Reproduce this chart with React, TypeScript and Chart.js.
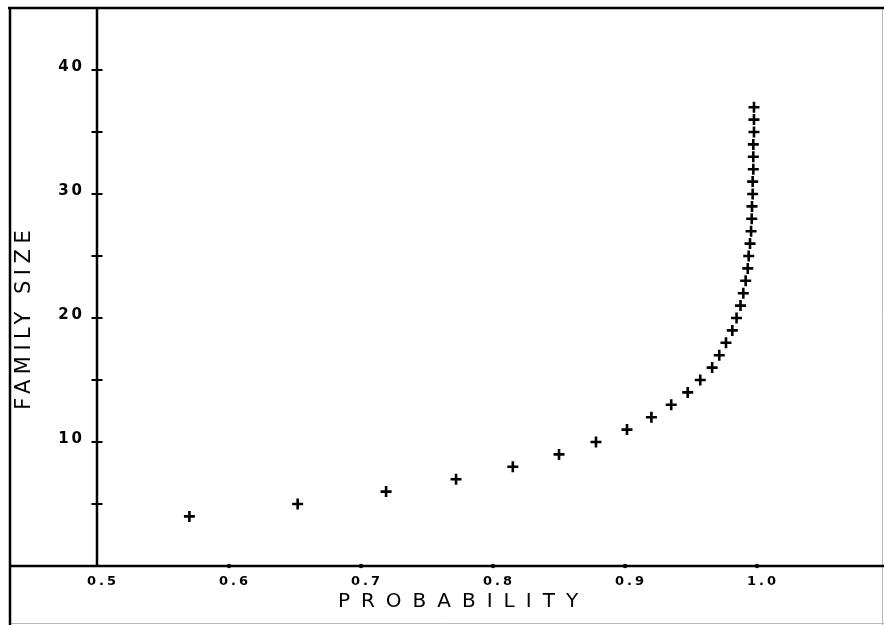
import React, { useEffect, useRef } from "react";
import { Chart, registerables } from "chart.js";

Chart.register(...registerables);

const familySize = [
  4, 5, 6, 7, 8, 9, 10, 11, 12, 13, 14, 15, 16, 17, 18, 19, 20, 21, 22, 23,
  24, 25, 26, 27, 28, 29, 30, 31, 32, 33, 34, 35, 36, 37,
];
const probability = [
  0.570, 0.652, 0.719, 0.772, 0.815, 0.850, 0.878, 0.9015, 0.920, 0.935,
  0.9475, 0.957, 0.966, 0.9714, 0.9765, 0.9813, 0.9845, 0.9875, 0.9896,
  0.9914, 0.993, 0.9937, 0.9947, 0.9955, 0.996, 0.9962, 0.9967, 0.9967,
  0.9972, 0.9972, 0.9972, 0.9977, 0.9977, 0.9977,
];
const yLabelValues = [10, 20, 30, 40];
const xTitle = "PROBABILITY";
const yTitle = "FAMILY SIZE";

const framePlugin = {
  id: "frame",
  beforeDraw(chart: any) {
    (chart.ctx as any).letterSpacing = "3px";
  },
  afterDraw(chart: any) {
    const { ctx, chartArea, scales } = chart;
    const xs = scales.x;
    const ys = scales.y;
    const W = chart.width;
    const H = chart.height;
    ctx.save();
    (ctx as any).letterSpacing = "0px";
    // faint outer page edges
    ctx.strokeStyle = "#b8b8b8";
    ctx.lineWidth = 1;
    ctx.beginPath();
    ctx.moveTo(W - 1.5, chartArea.top);
    ctx.lineTo(W - 1.5, H);
    ctx.moveTo(chartArea.left - 88, H - 1.5);
    ctx.lineTo(W, H - 1.5);
    ctx.stroke();
    // frame
    ctx.strokeStyle = "#000";
    ctx.lineWidth = 2.5;
    ctx.beginPath();
    ctx.moveTo(chartArea.left - 89, chartArea.top);
    ctx.lineTo(W, chartArea.top);
    ctx.moveTo(chartArea.left - 87, chartArea.top - 1);
    ctx.lineTo(chartArea.left - 87, H);
    ctx.moveTo(chartArea.left - 88, chartArea.bottom);
    ctx.lineTo(W, chartArea.bottom);
    ctx.moveTo(chartArea.left, chartArea.top);
    ctx.lineTo(chartArea.left, chartArea.bottom);
    ctx.stroke();
    // y tick marks crossing the axis
    ctx.lineWidth = 2;
    ctx.beginPath();
    for (const t of ys.ticks) {
      if (t.value <= 0 || t.value >= ys.max) continue;
      const py = ys.getPixelForValue(t.value);
      ctx.moveTo(chartArea.left - 5.5, py);
      ctx.lineTo(chartArea.left + 5.5, py);
    }
    ctx.stroke();
    // x tick dots
    ctx.fillStyle = "#000";
    for (const t of xs.ticks) {
      if (t.value <= xs.min + 1e-9) continue;
      const px = xs.getPixelForValue(t.value);
      ctx.beginPath();
      ctx.arc(px, chartArea.bottom, 2.2, 0, Math.PI * 2);
      ctx.fill();
    }
    // axis titles
    ctx.fillStyle = "#000";
    ctx.textAlign = "center";
    ctx.textBaseline = "middle";
    ctx.save();
    ctx.font = '21px "DejaVu Sans"';
    (ctx as any).letterSpacing = "5.5px";
    ctx.translate(chartArea.left - 72, chartArea.top + 312);
    ctx.rotate(-Math.PI / 2);
    ctx.fillText(yTitle, 2.75, 0);
    ctx.restore();
    ctx.font = '20px "DejaVu Sans"';
    (ctx as any).letterSpacing = "11px";
    ctx.fillText(xTitle, chartArea.left + 361 + 5.5, chartArea.bottom + 36);
    ctx.restore();
  },
};

export default function App() {
  const ref = useRef<HTMLCanvasElement | null>(null);
  useEffect(() => {
    document.body.style.margin = "0";
    const canvas = ref.current;
    if (!canvas) return;
    const chart = new Chart(canvas, {
      type: "scatter",
      data: {
        datasets: [
          {
            data: familySize.map((s, i) => ({ x: probability[i], y: s })),
            pointStyle: "cross",
            pointRadius: 5.5,
            pointBorderWidth: 2.6,
            borderColor: "#000",
            backgroundColor: "#000",
            showLine: false,
          },
        ],
      },
      options: {
        animation: false,
        responsive: false,
        devicePixelRatio: 1,
        layout: {
          autoPadding: false,
          padding: { left: 9, top: 8, right: 0, bottom: 0 },
        },
        plugins: {
          legend: { display: false },
          tooltip: { enabled: false },
        },
        scales: {
          x: {
            type: "linear",
            min: 0.5,
            max: 1.0962,
            afterFit: (s: any) => {
              s.height = 59;
              s.paddingLeft = 0;
              s.paddingRight = 0;
            },
            grid: { display: false, drawTicks: false },
            border: { display: false },
            ticks: {
              stepSize: 0.1,
              includeBounds: false,
              autoSkip: false,
              maxRotation: 0,
              padding: 8,
              labelOffset: 6,
              color: "#000",
              font: { family: "DejaVu Sans", size: 13, weight: "bold" },
              callback: (v: any) => Number(v).toFixed(1),
            },
          },
          y: {
            type: "linear",
            min: 0,
            max: 45,
            afterFit: (s: any) => {
              s.width = 88;
              s.paddingTop = 0;
              s.paddingBottom = 0;
            },
            grid: { display: false, drawTicks: false },
            border: { display: false },
            ticks: {
              stepSize: 5,
              autoSkip: false,
              padding: 12,
              labelOffset: -3,
              color: "#000",
              font: { family: "DejaVu Sans", size: 15, weight: "bold" },
              callback: (v: any) =>
                yLabelValues.includes(Number(v)) ? String(v) : "",
            },
          },
        },
      },
      plugins: [framePlugin],
    });
    return () => chart.destroy();
  }, []);
  return (
    <canvas
      ref={ref}
      width={884}
      height={625}
      style={{ display: "block", width: 884, height: 625 }}
    />
  );
}
